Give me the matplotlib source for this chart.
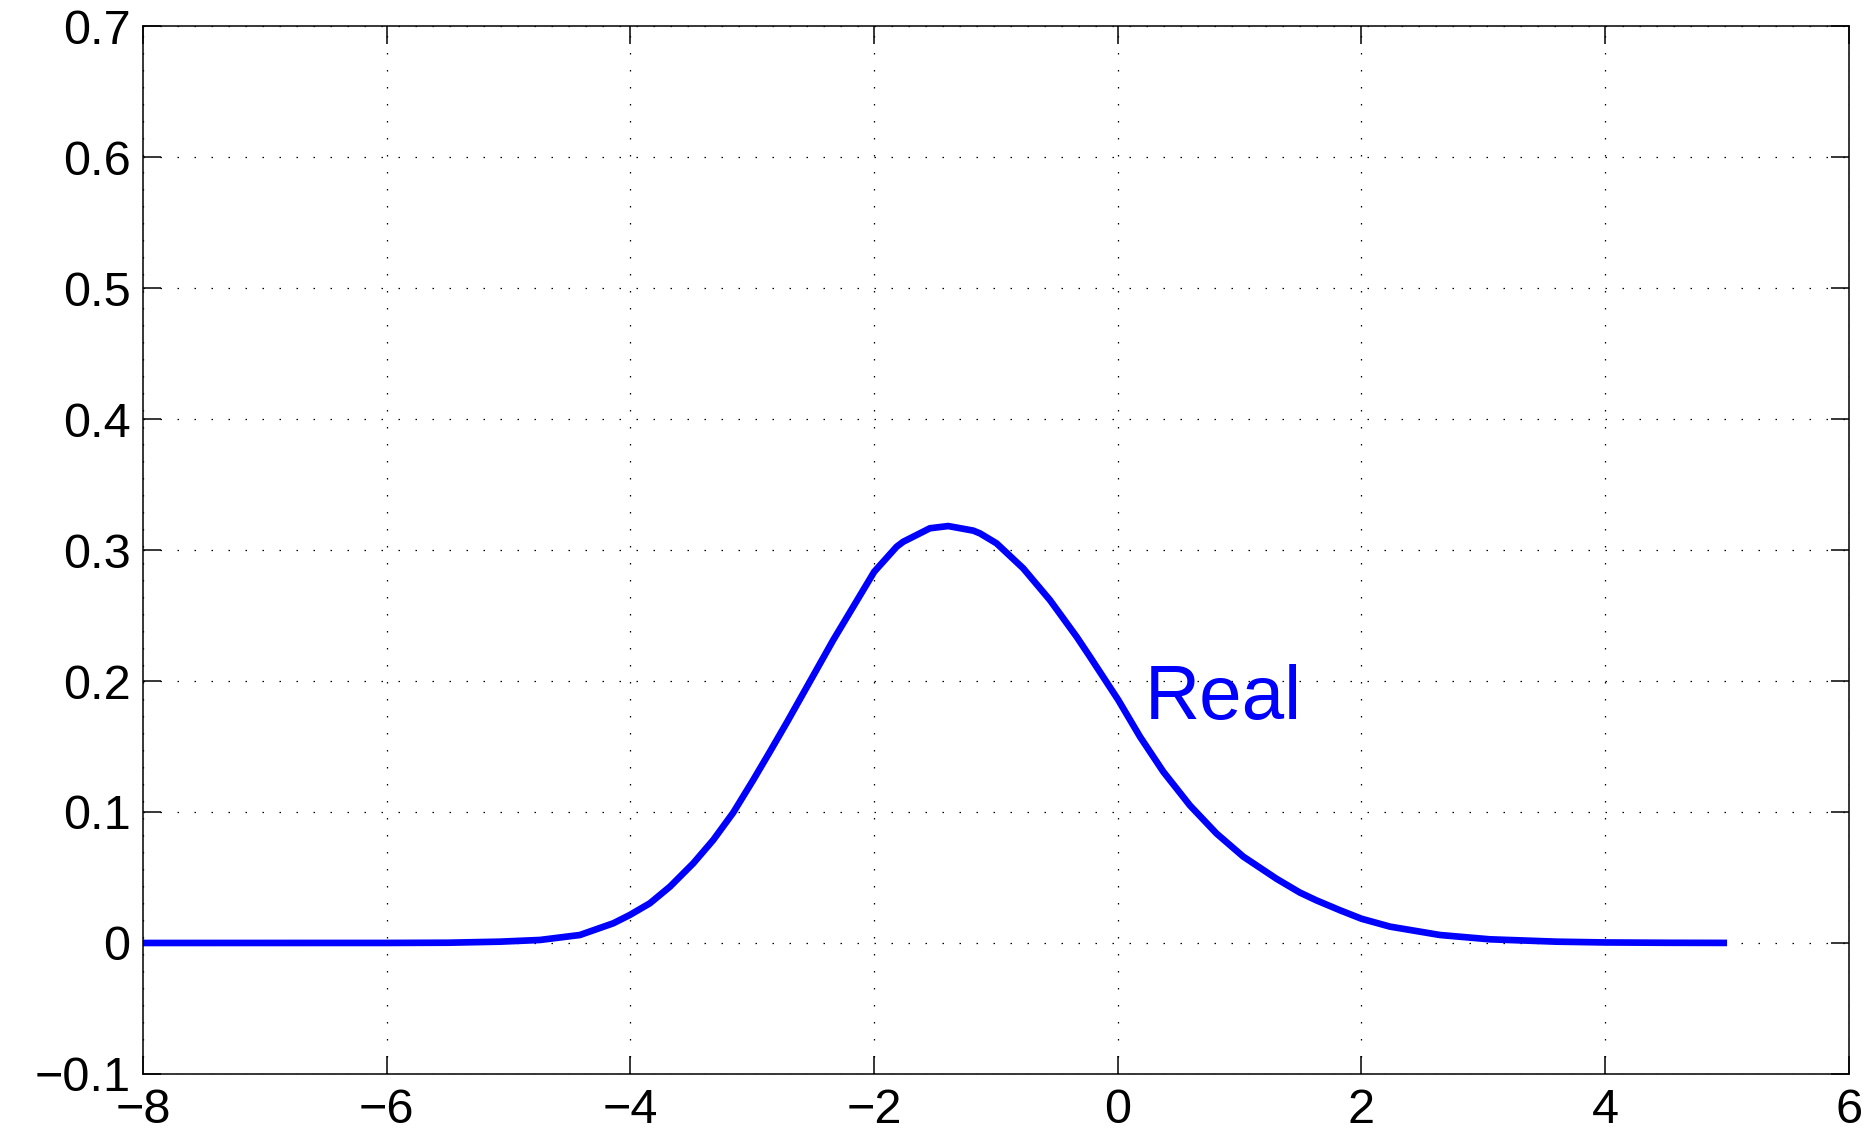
import numpy as np
import matplotlib
matplotlib.use("Agg")
import matplotlib.pyplot as plt

# ── values ─────────────────────────────────────────
X_VALS = [-8.0, -6.0, -5.5, -5.07, -4.742, -4.414, -4.141, -4.004, -3.84, -3.675,
          -3.484, -3.32, -3.156, -2.992, -2.855, -2.718, -2.5, -2.335, -2.171,
          -1.999, -1.815, -1.761, -1.597, -1.542, -1.392, -1.186, -1.131, -0.995, -0.885,
          -0.776, -0.557, -0.338, -0.229, 0.004, 0.182, 0.373, 0.592, 0.811,
          1.029, 1.303, 1.494, 1.631, 1.823, 2.0, 2.233, 2.643, 3.053, 3.6,
          4.0, 4.5, 5.0]
Y_VALS = [0.0, 0.00003, 0.0002, 0.001, 0.0023, 0.0061, 0.015, 0.0214, 0.0303, 0.043,
          0.0608, 0.0786, 0.0995, 0.1244, 0.146, 0.168, 0.204, 0.2313, 0.2567,
          0.2834, 0.3025, 0.3063, 0.314, 0.3166, 0.3183, 0.3148, 0.3127, 0.3051, 0.2955,
          0.286, 0.2618, 0.2338, 0.2186, 0.1855, 0.1575, 0.1308, 0.105, 0.0835,
          0.066, 0.049, 0.0385, 0.0325, 0.025, 0.0185, 0.0125, 0.0061, 0.0028, 0.001,
          0.0004, 0.00015, 0.00005]

X_TICKS = [-8, -6, -4, -2, 0, 2, 4, 6]
Y_TICKS = [-0.1, 0, 0.1, 0.2, 0.3, 0.4, 0.5, 0.6, 0.7]
Y_TICK_LABELS = ["\u22120.1", "0", "0.1", "0.2", "0.3", "0.4", "0.5", "0.6", "0.7"]
X_TICK_LABELS = ["\u22128", "\u22126", "\u22124", "\u22122", "0", "2", "4", "6"]
LABEL_TEXT = "Real"
LABEL_POS = (0.22, 0.171)
# ───────────────────────────────────────────────────

plt.rcParams["font.family"] = ["Liberation Sans", "DejaVu Sans"]

fig = plt.figure(figsize=(18.71, 11.33), dpi=100)
ax = fig.add_axes([0.0764, 0.0521, 0.9118, 0.9249])

ax.plot(X_VALS, Y_VALS, color="#0000ff", lw=4.8,
        solid_capstyle="butt", solid_joinstyle="round")
ax.text(LABEL_POS[0], LABEL_POS[1], LABEL_TEXT, color="#0000ff", fontsize=55,
        ha="left", va="baseline")

ax.set_xlim(-8, 6)
ax.set_ylim(-0.1, 0.7)
ax.set_xticks(X_TICKS)
ax.set_xticklabels(X_TICK_LABELS)
ax.set_yticks(Y_TICKS)
ax.set_yticklabels(Y_TICK_LABELS)

ax.grid(True, color="black", lw=0.9, linestyle=(0, (1.2, 12.4)))
ax.tick_params(direction="in", length=13, width=1.1, labelsize=35,
               top=True, right=True, pad=9)
ax.tick_params(axis="x", pad=10)
for s in ax.spines.values():
    s.set_linewidth(1.1)

fig.savefig("out.png", dpi=100)
